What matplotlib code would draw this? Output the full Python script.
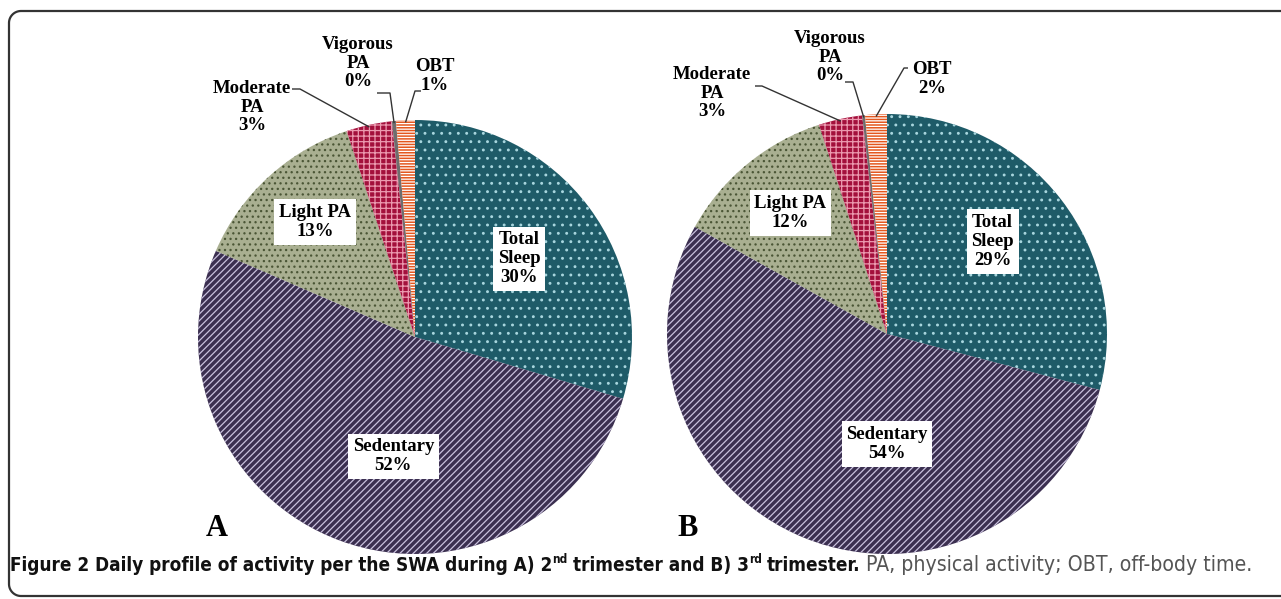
import matplotlib
matplotlib.use("Agg")
import matplotlib.pyplot as plt
import matplotlib.font_manager as fm
import numpy as np

# data (percent of the day)
categories = ["Total Sleep", "Sedentary", "Light PA", "Moderate PA", "Vigorous PA", "OBT"]
inner_names = ["Total\nSleep", "Sedentary", "Light PA"]
outer_names = ["Moderate\nPA", "Vigorous\nPA", "OBT"]
trim2 = [29.6, 51.9, 13.4, 3.4, 0.3, 1.4]
trim3 = [29.1, 54.0, 11.9, 3.2, 0.2, 1.6]

# styles
face = ["#1e5b68", "#3b2f50", "#a9af91", "#a3103c", "#6e6e6e", "#e4571e"]
hatch_col = ["#a8d6de", "#c9c1dd", "#4a5535", "#ec9ab0", "#6e6e6e", "#ffffff"]
hatches = ["..", "/////", "...", "+++", "", "------"]

plt.rcParams["hatch.linewidth"] = 0.9
W, H = 1281, 599
fig = plt.figure(figsize=(W / 100, H / 100), dpi=100)
ax = fig.add_axes([0, 0, 1, 1])

serif = "Liberation Serif"
lab_fs = 13.5


def iy(y):
    # image row -> plot y
    return H - y


# layout per pie, image pixel coords
pies = [
    dict(vals=trim2, cx=415, cy=337, r=217, letter="A", letter_xy=(217, 528),
         inner=[(0.48, 0.36), (-0.10, -0.55), (-0.46, 0.53)],
         outer=[(252, 107), (358, 63), (435, 76)],
         lead=[((292, 89), (300, 89)), ((377, 93), (390, 93)), ((421, 91), (415, 91))]),
    dict(vals=trim3, cx=887, cy=334, r=220, letter="B", letter_xy=(688, 528),
         inner=[(0.48, 0.42), (0.0, -0.50), (-0.44, 0.55)],
         outer=[(712, 93), (830, 57), (932, 79)],
         lead=[((755, 86), (762, 86)), ((845, 82), (853, 82)), ((908, 68), (904, 68))]),
]

for p in pies:
    cx, cy, r = p["cx"], iy(p["cy"]), p["r"]
    wedges, _ = ax.pie(p["vals"], colors=face, startangle=90, counterclock=False,
                       center=(cx, cy), radius=r, wedgeprops=dict(linewidth=0))
    for w, h, hc in zip(wedges, hatches, hatch_col):
        w.set_edgecolor(hc)
        w.set_linewidth(0)
        w.set_hatch(h)
    pct = [int(round(v)) for v in p["vals"]]
    for i, (ox, oy) in enumerate(p["inner"]):
        ax.text(cx + ox * r, cy + oy * r, f"{inner_names[i]}\n{pct[i]}%", ha="center", va="center",
                fontfamily=serif, fontweight="bold", fontsize=lab_fs, linespacing=1.15,
                bbox=dict(boxstyle="square,pad=0.25", fc="white", ec="none"))
    for j, (tx, ty) in enumerate(p["outer"]):
        k = j + 3
        ax.text(tx, iy(ty), f"{outer_names[j]}\n{pct[k]}%", ha="center", va="center",
                fontfamily=serif, fontweight="bold", fontsize=lab_fs, linespacing=1.15)
        w = wedges[k]
        th = np.deg2rad((w.theta1 + w.theta2) / 2)
        ex, ey = cx + 0.99 * r * np.cos(th), cy + 0.99 * r * np.sin(th)
        (a1, a2) = p["lead"][j]
        ax.plot([a1[0], a2[0], ex], [iy(a1[1]), iy(a2[1]), ey], color="#333333", lw=1.0,
                solid_capstyle="butt")
    lx, ly = p["letter_xy"]
    ax.text(lx, iy(ly), p["letter"], ha="center", va="center", fontfamily=serif,
            fontweight="bold", fontsize=22)

# frame: open on the right, rounded corners on the left
left, top, bot, rr = 9, iy(11), iy(596), 12
a1 = np.linspace(np.pi / 2, np.pi, 20)
a2 = np.linspace(np.pi, 1.5 * np.pi, 20)
fx = np.concatenate([[W + 5], left + rr + rr * np.cos(a1), left + rr + rr * np.cos(a2), [W + 5]])
fy = np.concatenate([[top], top - rr + rr * np.sin(a1), bot + rr + rr * np.sin(a2), [bot]])
ax.plot(fx, fy, color="#333333", lw=1.6, clip_on=False)

ax.set_xlim(0, W)
ax.set_ylim(0, H)
ax.set_aspect("equal", adjustable="box")
ax.axis("off")

# caption font
names = {f.name for f in fm.fontManager.ttflist}
cap_kw = dict(fontfamily="Open Sans")
if "Liberation Sans Narrow" in names:
    cap_kw = dict(fontfamily="Liberation Sans Narrow")
elif any(f.name == "DejaVu Sans" and "condensed" in str(f.stretch).lower() for f in fm.fontManager.ttflist):
    cap_kw = dict(fontfamily="DejaVu Sans", fontstretch="condensed")

pieces = [("Figure 2 Daily profile of activity per the SWA during A) 2", "bold", False, False),
          ("nd", "bold", True, False),
          ("trimester and B) 3", "bold", False, True),
          ("rd", "bold", True, False),
          ("trimester.", "bold", False, True),
          ("PA, physical activity; OBT, off-body time.", "normal", False, True)]

renderer = fig.canvas.get_renderer()


def place(fsb, fsr, keep):
    x = 10
    base = iy(571)
    made = []
    for txt, wt, sup, gap in pieces:
        fs = fsb if wt == "bold" else fsr
        if gap:
            x += 0.27 * fs * 100 / 72
        size = fs * 0.62 if sup else fs
        y = base + (0.42 * fs * 100 / 72 if sup else 0)
        col = "#111111" if wt == "bold" else "#555555"
        t = ax.text(x, y, txt, fontsize=size, fontweight=wt, color=col, ha="left", va="baseline",
                    **cap_kw)
        made.append(t)
        x += t.get_window_extent(renderer).width
    if not keep:
        for t in made:
            t.remove()
    return x


# fit the whole line, with the plain part a little larger than the bold part
ratio = 1.12
end = place(12, 12 * ratio, False)
fsb = 12 * (1250 - 10) / (end - 10)
place(fsb, fsb * ratio, True)

fig.savefig("out.png", dpi=100)
